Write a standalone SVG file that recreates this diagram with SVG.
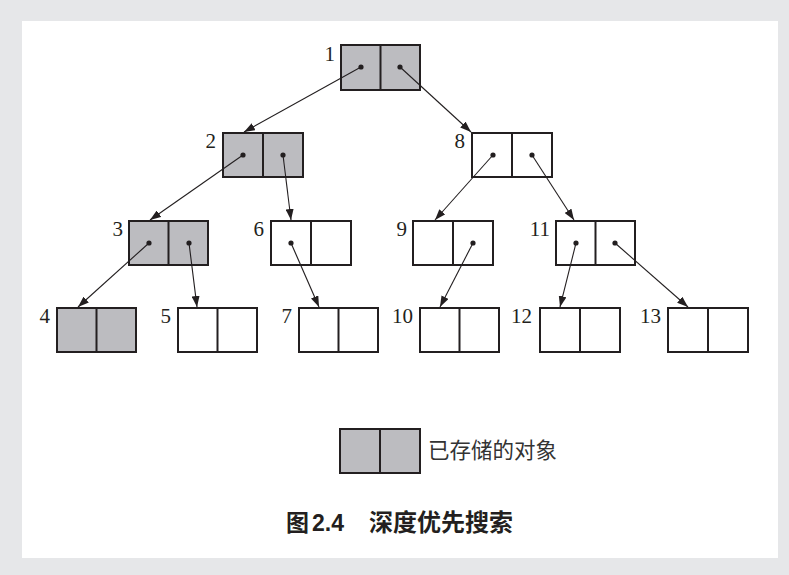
<svg xmlns="http://www.w3.org/2000/svg" width="789" height="575" viewBox="0 0 789 575">
<style>
.box{stroke:#231f20;stroke-width:2}
.g{fill:#bcbcc0}
.w{fill:#ffffff}
.div{stroke:#231f20;stroke-width:2}
.lbl{font-family:"Liberation Serif","Times New Roman",serif;font-size:21px;fill:#231f20;text-anchor:end}
.dot{fill:#231f20}
.con line{stroke:#231f20;stroke-width:1.1;marker-end:url(#ah)}
</style>
<defs>
<marker id="ah" markerUnits="userSpaceOnUse" markerWidth="12" markerHeight="8" refX="11" refY="4" orient="auto">
<path d="M0,0 L11,4 L0,8 Z" fill="#231f20"/>
</marker>
</defs>
<rect x="0" y="0" width="789" height="575" fill="#e6e7e9"/>
<rect x="22" y="21" width="756" height="537" fill="#ffffff"/>

<g id="n1"><rect class="box g" x="341" y="45" width="79" height="45"/><line class="div" x1="380.5" y1="45" x2="380.5" y2="90"/><text class="lbl" x="335" y="60.5">1</text><circle class="dot" cx="361" cy="67" r="2.6"/><circle class="dot" cx="400" cy="67" r="2.6"/></g>
<g id="n2"><rect class="box g" x="223" y="133" width="80" height="44"/><line class="div" x1="263" y1="133" x2="263" y2="177"/><text class="lbl" x="216" y="148">2</text><circle class="dot" cx="243" cy="155" r="2.6"/><circle class="dot" cx="283" cy="155" r="2.6"/></g>
<g id="n8"><rect class="box w" x="472" y="133" width="80" height="44"/><line class="div" x1="512" y1="133" x2="512" y2="177"/><text class="lbl" x="465" y="148">8</text><circle class="dot" cx="493" cy="155" r="2.6"/><circle class="dot" cx="532" cy="155" r="2.6"/></g>
<g id="n3"><rect class="box g" x="129" y="221" width="79" height="44"/><line class="div" x1="168.5" y1="221" x2="168.5" y2="265"/><text class="lbl" x="123" y="236">3</text><circle class="dot" cx="149" cy="243" r="2.6"/><circle class="dot" cx="189" cy="243" r="2.6"/></g>
<g id="n6"><rect class="box w" x="271" y="221" width="80" height="44"/><line class="div" x1="311" y1="221" x2="311" y2="265"/><text class="lbl" x="264" y="236">6</text><circle class="dot" cx="291" cy="243" r="2.6"/></g>
<g id="n9"><rect class="box w" x="413" y="221" width="80" height="44"/><line class="div" x1="453" y1="221" x2="453" y2="265"/><text class="lbl" x="407" y="236">9</text><circle class="dot" cx="473" cy="243" r="2.6"/></g>
<g id="n11"><rect class="box w" x="556" y="221" width="79" height="44"/><line class="div" x1="595.5" y1="221" x2="595.5" y2="265"/><text class="lbl" x="550" y="236">11</text><circle class="dot" cx="576" cy="243" r="2.6"/><circle class="dot" cx="615" cy="243" r="2.6"/></g>
<g id="n4"><rect class="box g" x="57" y="308" width="79" height="44"/><line class="div" x1="96.5" y1="308" x2="96.5" y2="352"/><text class="lbl" x="50" y="323">4</text></g>
<g id="n5"><rect class="box w" x="178" y="308" width="79" height="44"/><line class="div" x1="217.5" y1="308" x2="217.5" y2="352"/><text class="lbl" x="171" y="323">5</text></g>
<g id="n7"><rect class="box w" x="299" y="308" width="79" height="44"/><line class="div" x1="338.5" y1="308" x2="338.5" y2="352"/><text class="lbl" x="292" y="323">7</text></g>
<g id="n10"><rect class="box w" x="420" y="308" width="79" height="44"/><line class="div" x1="459.5" y1="308" x2="459.5" y2="352"/><text class="lbl" x="413" y="323">10</text></g>
<g id="n12"><rect class="box w" x="540" y="308" width="80" height="44"/><line class="div" x1="580" y1="308" x2="580" y2="352"/><text class="lbl" x="532" y="323">12</text></g>
<g id="n13"><rect class="box w" x="668" y="308" width="80" height="44"/><line class="div" x1="708" y1="308" x2="708" y2="352"/><text class="lbl" x="661" y="323">13</text></g>

<g id="connectors" class="con">
<line x1="361" y1="67" x2="244" y2="132"/>
<line x1="400" y1="67" x2="471" y2="132"/>
<line x1="243" y1="155" x2="150" y2="220"/>
<line x1="283" y1="155" x2="291" y2="220"/>
<line x1="149" y1="243" x2="78" y2="307"/>
<line x1="189" y1="243" x2="197" y2="307"/>
<line x1="291" y1="243" x2="319" y2="307"/>
<line x1="493" y1="155" x2="435" y2="220"/>
<line x1="532" y1="155" x2="574" y2="220"/>
<line x1="473" y1="243" x2="440" y2="307"/>
<line x1="576" y1="243" x2="560" y2="307"/>
<line x1="615" y1="243" x2="688" y2="307"/>
</g>

<g id="legend"><rect class="box g" x="340" y="429" width="80" height="44"/><line class="div" x1="380" y1="429" x2="380" y2="473"/><text x="428" y="458" font-family="'Noto Sans CJK SC',sans-serif" font-size="21.5" fill="#333333">已存储的对象</text></g>
<g id="caption"><text x="286" y="531" font-family="'Noto Sans CJK SC',sans-serif" font-size="23" font-weight="bold" fill="#231f20">图</text><text x="312" y="531" font-family="'Liberation Sans',Arial,sans-serif" font-size="23" font-weight="bold" fill="#231f20">2.4</text><text x="369" y="531" font-family="'Noto Sans CJK SC',sans-serif" font-size="24" font-weight="bold" fill="#231f20">深度优先搜索</text></g>
</svg>
